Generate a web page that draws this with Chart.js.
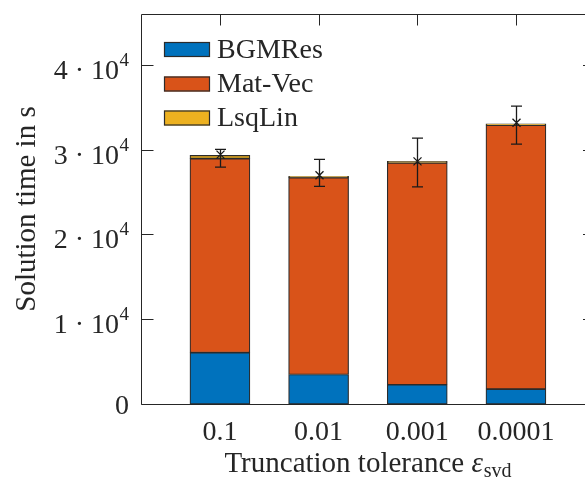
<!DOCTYPE html>
<html><head><meta charset="utf-8">
<script src="https://cdn.jsdelivr.net/npm/chart.js@4.4.0/dist/chart.umd.min.js"></script>
<style>html,body{margin:0;padding:0;background:#fff;} #wrap{width:585px;height:479px;}</style>
</head><body><div id="wrap"><canvas id="c" width="585" height="479"></canvas></div>
<script>
// ---- data ----
const categories = ['0.1', '0.01', '0.001', '0.0001'];
const categoryPositions = [1, 2, 3, 4];
const bgmres = [6050, 3480, 2270, 1765];
const matvec = [22890, 23220, 26180, 31135];
const lsqlin = [380, 160, 170, 160];
const errMean = [29410, 26980, 28620, 33180];
const errLow = [27950, 25680, 25600, 30660];
const errHigh = [30040, 28860, 31360, 35130];
const yTickValues = [0, 10000, 20000, 30000, 40000];
const yTickLabels = ['0', '1 · 10^4', '2 · 10^4', '3 · 10^4', '4 · 10^4'];
const seriesNames = ['BGMRes', 'Mat-Vec', 'LsqLin'];
const yAxisTitle = 'Solution time in s';
const xAxisTitle = 'Truncation tolerance ';
const xAxisSymbol = 'ε';
const xAxisSub = 'svd';

// ---- styles ----
const FONT = '"Liberation Serif", "Times New Roman", serif';
const TEXT = '#262626';
const AXIS = '#262626';
const EDGE = '#2b2b2b';
const colors = ['#0072BD', '#D95319', '#EDB120'];

const seriesData = [bgmres, matvec, lsqlin];
const datasets = seriesData.map((arr, k) => ({
  label: seriesNames[k],
  data: categoryPositions.map((x, i) => ({x: x, y: arr[i]})),
  backgroundColor: colors[k],
  borderColor: EDGE,
  borderWidth: 1.2,
  borderSkipped: false,
  barThickness: 60,
  stack: 's'
}));

const decor = {
  id: 'decor',
  afterDatasetsDraw(chart) {
    const ctx = chart.ctx, xs = chart.scales.x, ys = chart.scales.y;
    ctx.save();
    ctx.strokeStyle = '#1a1a1a';
    ctx.lineWidth = 1.3;
    categoryPositions.forEach((p, i) => {
      const px = Math.round(xs.getPixelForValue(p)) + 0.5;
      const yl = ys.getPixelForValue(errLow[i]);
      const yh = ys.getPixelForValue(errHigh[i]);
      const ym = ys.getPixelForValue(errMean[i]);
      ctx.beginPath();
      ctx.moveTo(px, yl); ctx.lineTo(px, yh);
      ctx.moveTo(px - 5.5, yl); ctx.lineTo(px + 5.5, yl);
      ctx.moveTo(px - 5.5, yh); ctx.lineTo(px + 5.5, yh);
      ctx.moveTo(px - 4, ym - 4); ctx.lineTo(px + 4, ym + 4);
      ctx.moveTo(px - 4, ym + 4); ctx.lineTo(px + 4, ym - 4);
      ctx.stroke();
    });
    ctx.restore();
  },
  afterDraw(chart) {
    const ctx = chart.ctx, xs = chart.scales.x, ys = chart.scales.y;
    const a = chart.chartArea;
    const L = Math.round(a.left) + 0.5, R = a.right, T = Math.round(a.top) + 0.5, B = Math.round(a.bottom) + 0.5;
    ctx.save();
    ctx.strokeStyle = AXIS;
    ctx.lineWidth = 1;
    ctx.beginPath();
    ctx.moveTo(L, T); ctx.lineTo(R, T);
    ctx.moveTo(L, T); ctx.lineTo(L, B);
    ctx.moveTo(L, B); ctx.lineTo(R, B);
    // y ticks (inward, left) and stubs of right-axis ticks
    yTickValues.forEach(v => {
      const py = Math.round(ys.getPixelForValue(v)) + 0.5;
      ctx.moveTo(L, py); ctx.lineTo(L + 12, py);
      ctx.moveTo(R - 2, py); ctx.lineTo(R, py);
    });
    // top x ticks (inward)
    categoryPositions.forEach(p => {
      const px = Math.round(xs.getPixelForValue(p)) + 0.5;
      ctx.moveTo(px, T); ctx.lineTo(px, T + 11);
    });
    ctx.stroke();

    // y tick labels with superscript
    ctx.fillStyle = TEXT;
    ctx.textAlign = 'right';
    ctx.textBaseline = 'alphabetic';
    const xr = a.left - 12;
    yTickValues.forEach((v, i) => {
      const py = ys.getPixelForValue(v);
      const parts = yTickLabels[i].split('^');
      if (parts.length === 1) {
        ctx.font = '28px ' + FONT;
        ctx.fillText(parts[0], xr, py + 9.5);
      } else {
        ctx.font = '19px ' + FONT;
        const ew = ctx.measureText(parts[1]).width;
        ctx.fillText(parts[1], xr, py + 1);
        ctx.font = '28px ' + FONT;
        ctx.fillText(parts[0], xr - ew - 0.5, py + 14);
      }
    });

    // y axis title (rotated)
    ctx.save();
    ctx.font = '29px ' + FONT;
    ctx.translate(35, (a.top + a.bottom) / 2);
    ctx.rotate(-Math.PI / 2);
    ctx.textAlign = 'center';
    ctx.textBaseline = 'alphabetic';
    ctx.fillText(yAxisTitle, 0, 0);
    ctx.restore();

    // x axis title with italic epsilon and subscript
    ctx.textAlign = 'left';
    ctx.font = '29px ' + FONT;
    const w1 = ctx.measureText(xAxisTitle).width;
    ctx.font = 'italic 29px ' + FONT;
    const w2 = ctx.measureText(xAxisSymbol).width;
    ctx.font = '20px ' + FONT;
    const w3 = ctx.measureText(xAxisSub).width;
    const total = w1 + w2 + 1 + w3;
    let x0 = 368 - total / 2;
    const base = 472;
    ctx.font = '29px ' + FONT;
    ctx.fillText(xAxisTitle, x0, base);
    ctx.font = 'italic 29px ' + FONT;
    ctx.fillText(xAxisSymbol, x0 + w1, base);
    ctx.font = '20px ' + FONT;
    ctx.fillText(xAxisSub, x0 + w1 + w2 + 1, base + 5);

    // legend
    const centers = [49.5, 84, 118];
    chart.data.datasets.forEach((ds, k) => {
      const cy = centers[k];
      ctx.fillStyle = ds.backgroundColor;
      ctx.fillRect(164, cy - 7.5, 46, 15);
      ctx.strokeStyle = EDGE;
      ctx.lineWidth = 1.2;
      ctx.strokeRect(164.5, cy - 7, 45, 14);
      ctx.fillStyle = TEXT;
      ctx.font = '28px ' + FONT;
      ctx.textAlign = 'left';
      ctx.fillText(ds.label, 217, cy + 8);
    });
    ctx.restore();
  }
};

new Chart(document.getElementById('c'), {
  type: 'bar',
  data: {datasets: datasets},
  options: {
    responsive: false,
    animation: false,
    devicePixelRatio: 1,
    layout: {padding: {top: 14, left: 0, right: 0, bottom: 0}},
    plugins: {legend: {display: false}, tooltip: {enabled: false}},
    scales: {
      x: {
        type: 'linear', min: 0.2, max: 4.7, stacked: true, offset: false,
        grid: {display: false}, border: {display: false},
        afterBuildTicks: s => { s.ticks = categoryPositions.map(v => ({value: v})); },
        ticks: {
          callback: v => { const i = categoryPositions.indexOf(v); return i >= 0 ? categories[i] : ''; },
          font: {family: FONT, size: 28}, color: TEXT, padding: 4,
          maxRotation: 0, minRotation: 0, autoSkip: false
        },
        afterFit: s => { s.height = 75; }
      },
      y: {
        type: 'linear', min: 0, max: 46000, stacked: true,
        grid: {display: false}, border: {display: false},
        afterBuildTicks: s => { s.ticks = yTickValues.map(v => ({value: v})); },
        ticks: {display: false},
        afterFit: s => { s.width = 141; }
      }
    }
  },
  plugins: [decor]
});
</script>
</body></html>
